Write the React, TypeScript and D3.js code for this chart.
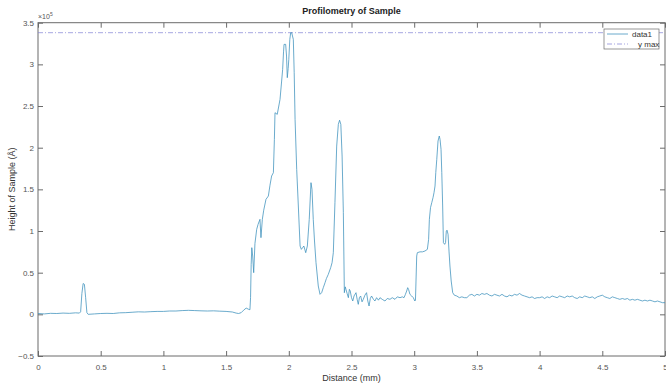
import * as d3 from 'd3';
import { useEffect, useRef } from 'react';

// distance in mm, height in units of 1e5 Angstrom
const distance = [
  0, 0.05, 0.1, 0.15, 0.2, 0.25, 0.3, 0.33, 0.34, 0.35, 0.36, 0.37, 0.38, 0.39, 0.4, 0.45,
  0.5, 0.55, 0.6, 0.65, 0.7, 0.75, 0.8, 0.85, 0.9, 0.95, 1.0, 1.05, 1.1, 1.15, 1.2, 1.25,
  1.3, 1.35, 1.4, 1.45, 1.5, 1.55, 1.58, 1.6, 1.62, 1.64, 1.66, 1.68, 1.69, 1.695, 1.7, 1.705,
  1.712, 1.72, 1.73, 1.744, 1.755, 1.77, 1.778, 1.789, 1.8, 1.818, 1.837, 1.85, 1.863, 1.877,
  1.885, 1.89, 1.908, 1.93, 1.943, 1.951, 1.958, 1.962, 1.975, 1.982, 1.988, 1.995, 2.0, 2.008,
  2.015, 2.023, 2.036, 2.043, 2.05, 2.063, 2.076, 2.09, 2.1, 2.11, 2.12, 2.135, 2.148, 2.163,
  2.177, 2.185, 2.195, 2.205, 2.217, 2.235, 2.249, 2.262, 2.275, 2.289, 2.3, 2.315, 2.334, 2.345,
  2.355, 2.368, 2.382, 2.395, 2.405, 2.415, 2.425, 2.435, 2.443, 2.45, 2.456, 2.465, 2.475, 2.483,
  2.49, 2.5, 2.51, 2.52, 2.536, 2.545, 2.554, 2.563, 2.573, 2.584, 2.594, 2.607, 2.62, 2.63,
  2.64, 2.65, 2.66, 2.675, 2.687, 2.7, 2.715, 2.727, 2.745, 2.767, 2.785, 2.807, 2.825, 2.847,
  2.865, 2.887, 2.905, 2.919, 2.93, 2.94, 2.948, 2.955, 2.966, 2.98, 2.993, 3.005, 3.01, 3.02,
  3.025, 3.046, 3.066, 3.086, 3.105, 3.115, 3.121, 3.13, 3.14, 3.15, 3.158, 3.166, 3.172, 3.18,
  3.19, 3.2, 3.206, 3.214, 3.22, 3.227, 3.233, 3.243, 3.25, 3.256, 3.262, 3.27, 3.278, 3.285,
  3.295, 3.307, 3.32, 3.34, 3.36, 3.38, 3.4, 3.42, 3.44, 3.46, 3.48, 3.5, 3.52, 3.54,
  3.56, 3.58, 3.6, 3.62, 3.64, 3.66, 3.68, 3.7, 3.72, 3.74, 3.76, 3.78, 3.8, 3.82,
  3.84, 3.86, 3.88, 3.9, 3.92, 3.94, 3.96, 3.98, 4.0, 4.02, 4.04, 4.06, 4.08, 4.1,
  4.12, 4.14, 4.16, 4.18, 4.2, 4.22, 4.24, 4.26, 4.28, 4.3, 4.32, 4.34, 4.36, 4.38,
  4.4, 4.42, 4.44, 4.46, 4.48, 4.5, 4.52, 4.54, 4.56, 4.58, 4.6, 4.62, 4.64, 4.66,
  4.68, 4.7, 4.72, 4.74, 4.76, 4.78, 4.8, 4.82, 4.84, 4.86, 4.88, 4.9, 4.92, 4.94,
  4.96, 4.98, 5.0,
];
const height = [
  0.01, 0.005, 0.012, 0.01, 0.015, 0.012, 0.018, 0.015, 0.03, 0.25, 0.37, 0.36, 0.2, 0.02, 0.0, 0.005,
  0.01, 0.012, 0.01, 0.018, 0.02, 0.025, 0.03, 0.028, 0.032, 0.035, 0.035, 0.04, 0.04, 0.045, 0.048, 0.045,
  0.042, 0.04, 0.042, 0.038, 0.035, 0.028, 0.015, 0.01, 0.02, 0.05, 0.075, 0.06, 0.055, 0.2, 0.6, 0.8,
  0.7, 0.5, 0.85, 1.02, 1.08, 1.14, 0.92, 1.14, 1.25, 1.38, 1.42, 1.55, 1.66, 1.7,
  2.1, 2.42, 2.4, 2.58, 2.8, 2.94, 3.15, 3.24, 3.24, 3.1, 2.84, 2.95, 3.06, 3.3,
  3.38, 3.38, 3.3, 2.9, 2.34, 1.74, 1.3, 0.82, 0.78, 0.8, 0.82, 0.74, 0.82, 1.14,
  1.58, 1.5, 1.14, 0.88, 0.62, 0.34, 0.24, 0.26, 0.32, 0.38, 0.43, 0.48, 0.56, 0.62,
  0.74, 1.34, 2.02, 2.28, 2.33, 2.28, 1.9, 1.22, 0.26, 0.33, 0.3, 0.25, 0.2, 0.3,
  0.28, 0.2, 0.16, 0.22, 0.26, 0.18, 0.12, 0.2, 0.22, 0.15, 0.18, 0.23, 0.26, 0.16,
  0.1, 0.19, 0.22, 0.18, 0.16, 0.2, 0.17, 0.2, 0.18, 0.16, 0.19, 0.18, 0.2, 0.18,
  0.21, 0.2, 0.21, 0.2, 0.24, 0.28, 0.32, 0.3, 0.24, 0.22, 0.2, 0.16, 0.17, 0.7,
  0.74, 0.75, 0.75, 0.76, 0.78, 0.9, 1.14, 1.28, 1.34, 1.4, 1.46, 1.54, 1.7, 1.86,
  2.08, 2.14, 2.1, 1.98, 1.7, 1.3, 0.86, 0.84, 0.86, 1.0, 1.01, 0.96, 0.75, 0.58,
  0.4, 0.26, 0.23, 0.22, 0.2, 0.21, 0.2, 0.2, 0.23, 0.24, 0.22, 0.24, 0.23, 0.25,
  0.24, 0.25, 0.23, 0.22, 0.24, 0.23, 0.22, 0.24, 0.22, 0.21, 0.23, 0.22, 0.24, 0.23,
  0.25, 0.23, 0.22, 0.21, 0.2, 0.21, 0.19, 0.2, 0.2, 0.21, 0.19, 0.21, 0.2, 0.22,
  0.21, 0.2, 0.22, 0.21, 0.2, 0.22, 0.21, 0.22, 0.2, 0.19, 0.21, 0.2, 0.22, 0.21,
  0.2, 0.21, 0.19, 0.21, 0.22, 0.23, 0.21, 0.2, 0.19, 0.21, 0.2, 0.19, 0.18, 0.19,
  0.18, 0.19, 0.17, 0.18, 0.17, 0.18, 0.17, 0.16, 0.17, 0.16, 0.17, 0.16, 0.15, 0.16,
  0.15, 0.14, 0.14,
];
const yMax = 3.38;
const xTicks = [0, 0.5, 1, 1.5, 2, 2.5, 3, 3.5, 4, 4.5, 5];
const yTicks = [-0.5, 0, 0.5, 1, 1.5, 2, 2.5, 3, 3.5];
const legendLabels = ['data1', 'y max'];

export default function App() {
  const w = 666;
  const h = 384;
  const svgRef = useRef<SVGSVGElement>(null);

  useEffect(() => {
    if (svgRef.current == null) {
      return;
    }
    const svg = d3.select(svgRef.current).select('#change');
    svg.selectAll('*').remove();

    const left = 38;
    const right = 665;
    const top = 22.7;
    const bottom = 356;
    const font = 'Liberation Sans, Arial, sans-serif';
    const axisColor = '#6b6b6b';
    const dataColor = '#3a8fbb';
    const maxColor = '#8080d4';

    const xScale = d3.scaleLinear().domain([0, 5]).range([left, right]);
    const yScale = d3.scaleLinear().domain([-0.5, 3.5]).range([bottom, top]);

    const styleAxis = (g: any) => {
      g.select('.domain').remove();
      g.selectAll('line').attr('stroke', axisColor);
      g.selectAll('text').style('font', `8px ${font}`).attr('fill', '#555');
    };

    svg
      .append('g')
      .attr('transform', `translate(0, ${bottom})`)
      .call(d3.axisBottom(xScale).tickValues(xTicks).tickSize(-5).tickPadding(8).tickFormat(d3.format('')))
      .call(styleAxis);
    svg
      .append('g')
      .attr('transform', `translate(0, ${top})`)
      .call(d3.axisTop(xScale).tickValues(xTicks).tickSize(-5).tickFormat(() => ''))
      .call(styleAxis);
    svg
      .append('g')
      .attr('transform', `translate(${left}, 0)`)
      .call(d3.axisLeft(yScale).tickValues(yTicks).tickSize(-5).tickPadding(4).tickFormat(d3.format('')))
      .call(styleAxis);
    svg
      .append('g')
      .attr('transform', `translate(${right}, 0)`)
      .call(d3.axisRight(yScale).tickValues(yTicks).tickSize(-5).tickFormat(() => ''))
      .call(styleAxis);

    // box
    svg
      .append('rect')
      .attr('x', left)
      .attr('y', top)
      .attr('width', right - left)
      .attr('height', bottom - top)
      .attr('fill', 'none')
      .attr('stroke', axisColor)
      .attr('stroke-width', 1);

    // y max line
    svg
      .append('line')
      .attr('x1', xScale(0))
      .attr('x2', xScale(5))
      .attr('y1', yScale(yMax))
      .attr('y2', yScale(yMax))
      .attr('stroke', maxColor)
      .attr('stroke-width', 0.7)
      .attr('stroke-dasharray', '5,2,1,2');

    const line = d3
      .line<number>()
      .x((_, i) => xScale(distance[i]))
      .y((d) => yScale(d));

    svg
      .append('path')
      .datum(height)
      .attr('d', line)
      .attr('fill', 'none')
      .attr('stroke', dataColor)
      .attr('stroke-width', 0.75);

    // title and labels
    svg
      .append('text')
      .attr('x', (left + right) / 2)
      .attr('y', 14)
      .attr('text-anchor', 'middle')
      .style('font', `bold 9px ${font}`)
      .attr('fill', '#222')
      .text('Profilometry of Sample');
    svg
      .append('text')
      .attr('x', (left + right) / 2)
      .attr('y', 381)
      .attr('text-anchor', 'middle')
      .style('font', `9px ${font}`)
      .attr('fill', '#333')
      .text('Distance (mm)');
    svg
      .append('text')
      .attr('transform', `translate(15, ${(top + bottom) / 2}) rotate(-90)`)
      .attr('text-anchor', 'middle')
      .style('font', `9px ${font}`)
      .attr('fill', '#333')
      .text('Height of Sample (Å)');

    const exp = svg
      .append('text')
      .attr('x', left)
      .attr('y', 19)
      .style('font', `7px ${font}`)
      .attr('fill', '#555');
    exp.append('tspan').text('×10');
    exp.append('tspan').attr('dy', -3).style('font-size', '5px').text('5');

    // legend
    const lg = svg.append('g');
    lg.append('rect')
      .attr('x', 604)
      .attr('y', 29)
      .attr('width', 55)
      .attr('height', 20)
      .attr('fill', 'white')
      .attr('stroke', axisColor)
      .attr('stroke-width', 0.7);
    lg.append('line')
      .attr('x1', 607)
      .attr('x2', 628)
      .attr('y1', 34)
      .attr('y2', 34)
      .attr('stroke', dataColor)
      .attr('stroke-width', 0.75);
    lg.append('line')
      .attr('x1', 607)
      .attr('x2', 628)
      .attr('y1', 44)
      .attr('y2', 44)
      .attr('stroke', maxColor)
      .attr('stroke-width', 0.7)
      .attr('stroke-dasharray', '5,2,1,2');
    lg.append('text')
      .attr('x', 632)
      .attr('y', 37)
      .style('font', `8px ${font}`)
      .attr('fill', '#333')
      .text(legendLabels[0]);
    lg.append('text')
      .attr('x', 638)
      .attr('y', 47)
      .style('font', `8px ${font}`)
      .attr('fill', '#333')
      .text(legendLabels[1]);
  }, []);

  return (
    <svg
      ref={svgRef}
      width={w}
      height={h}
      style={{ position: 'absolute', left: 0, top: 0, background: 'white' }}
    >
      <g id='change'></g>
    </svg>
  );
}
